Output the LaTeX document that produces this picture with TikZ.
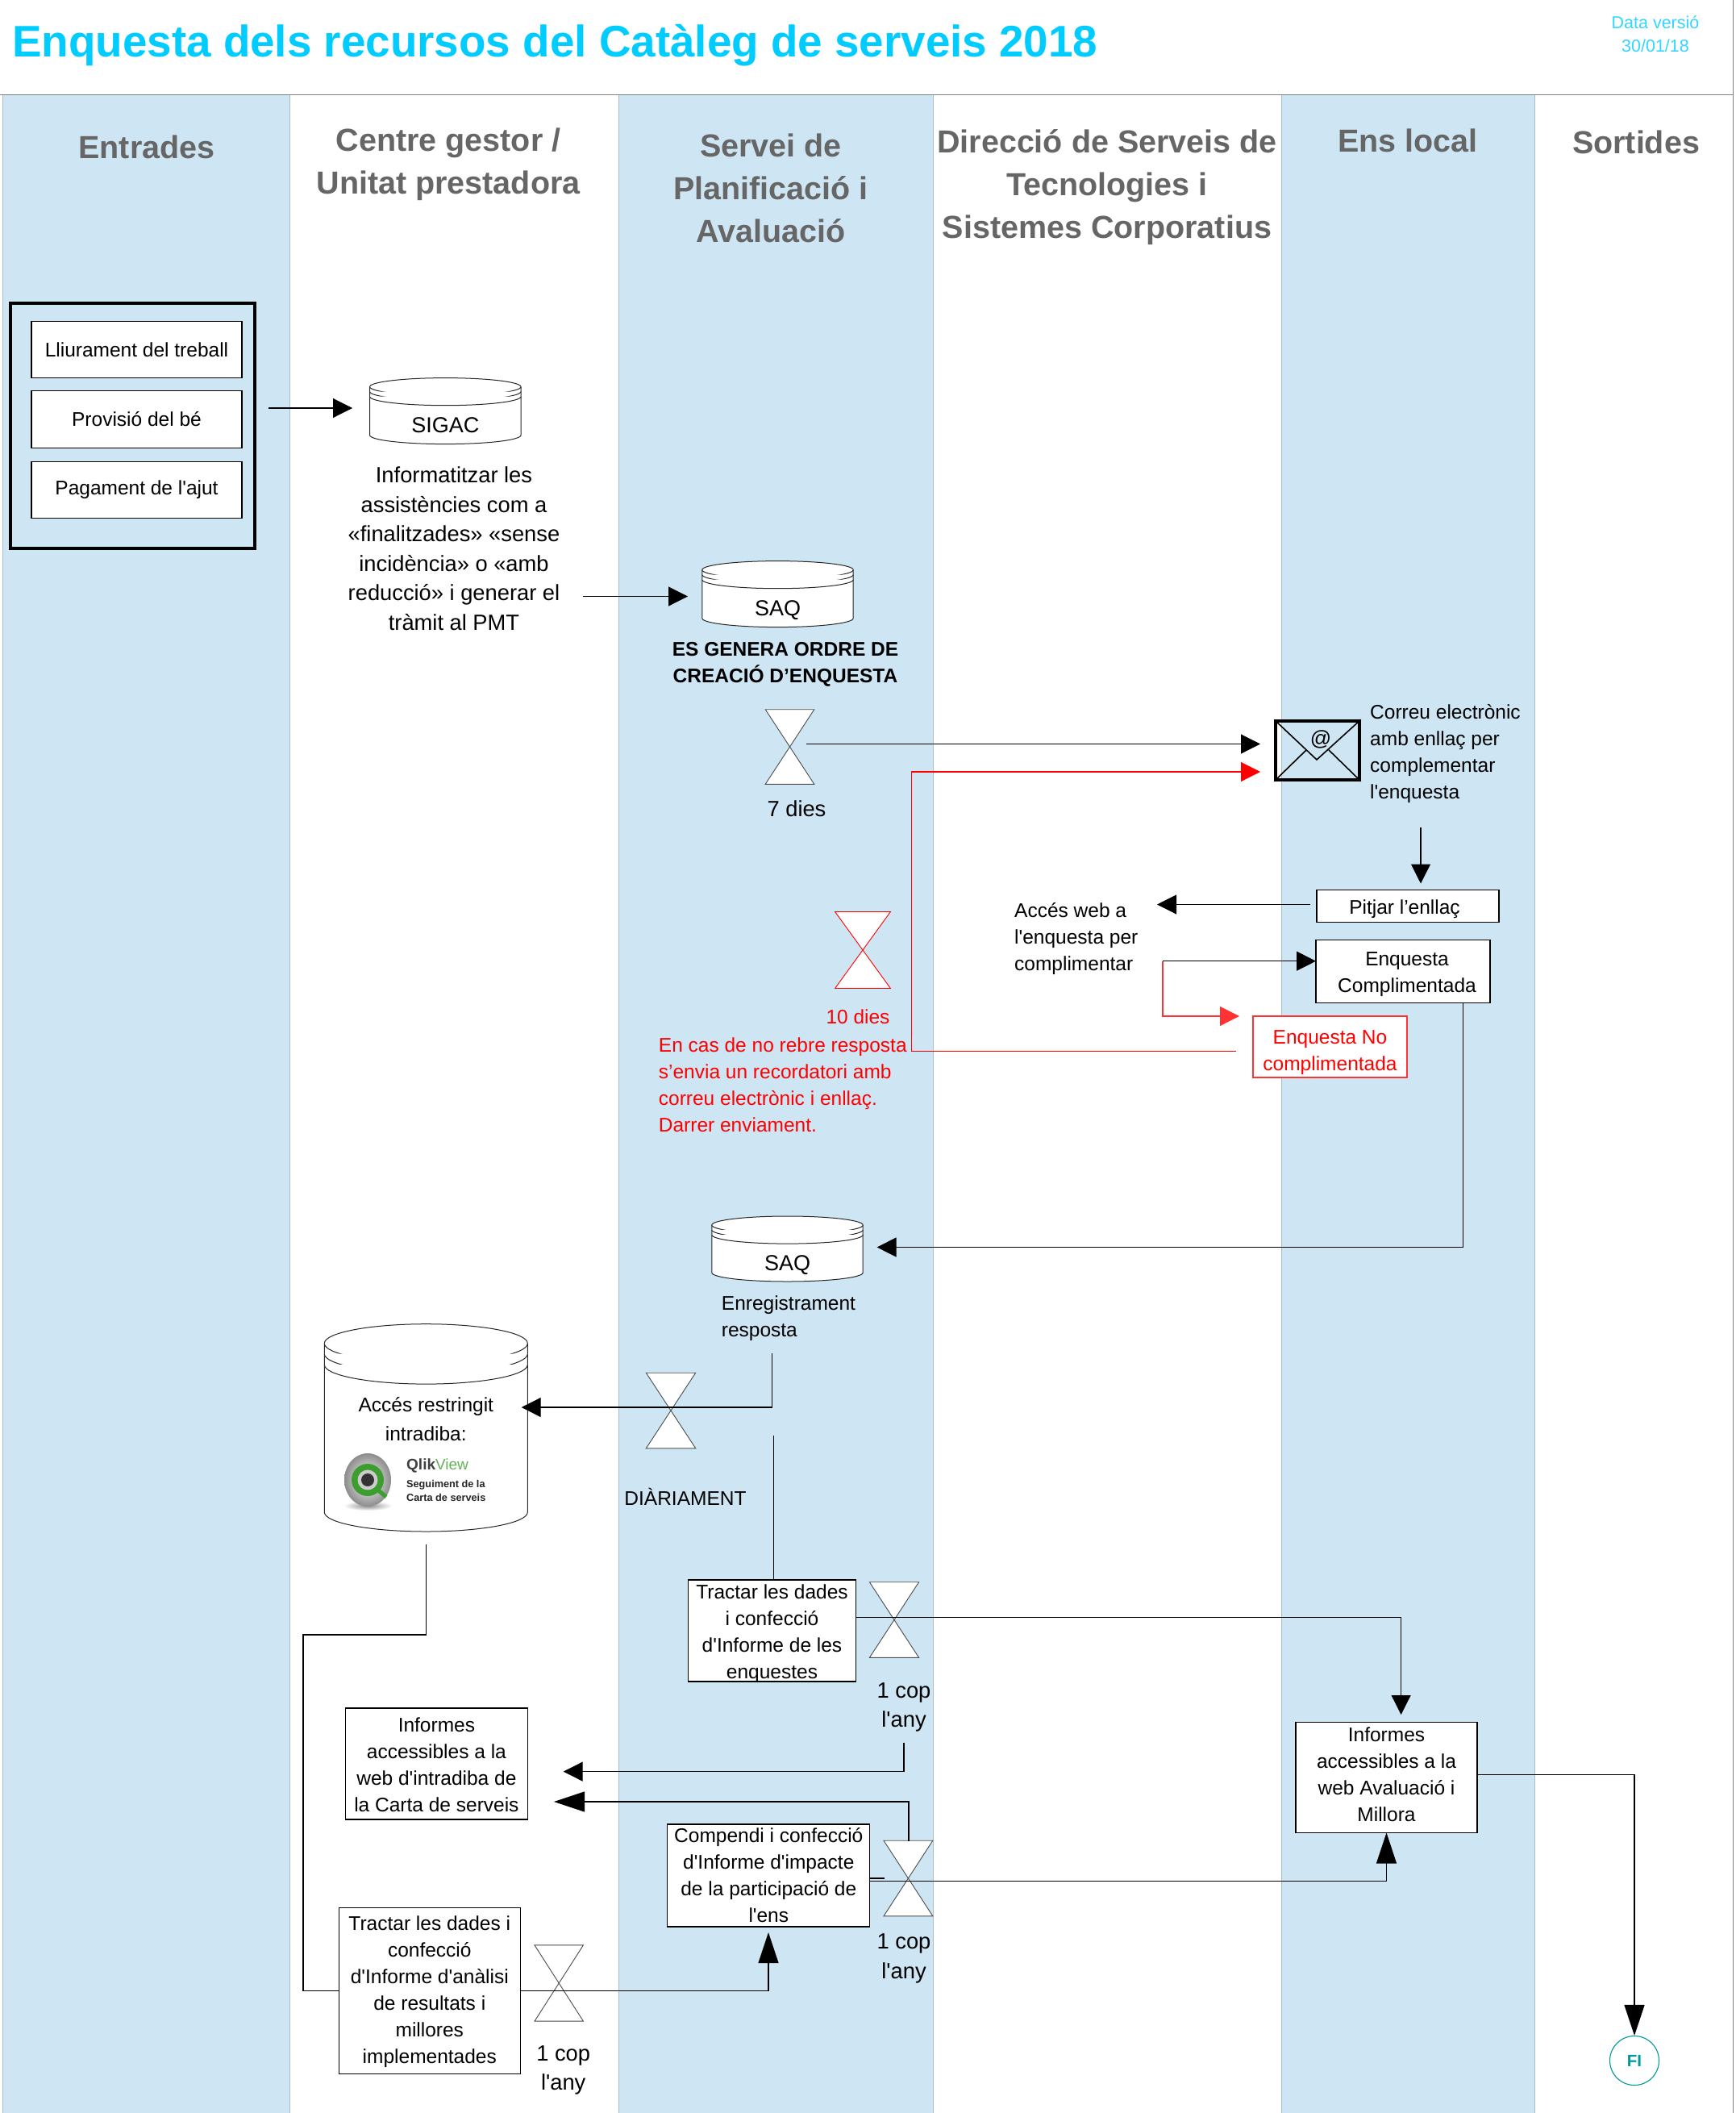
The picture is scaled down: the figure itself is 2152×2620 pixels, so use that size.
\documentclass[tikz,border=0pt]{standalone}
\usepackage{fontspec}
\setmainfont[Ligatures=TeXOff]{Liberation Sans}
\usetikzlibrary{arrows.meta, positioning}

\definecolor{lane}{HTML}{CEE5F3}
\definecolor{laneline}{HTML}{A9BDCB}
\definecolor{titlecyan}{HTML}{00CCFF}
\definecolor{headgray}{HTML}{666666}
\definecolor{softred}{HTML}{FF3333}
\definecolor{teal}{HTML}{009999}
\definecolor{qgreen}{HTML}{3C9E2E}

% drum: name, centre x, top y, x radius, height, y radius, label y, label
\newcommand{\drum}[8]{
  \draw[drum line] (#2-#4,#3+#6) arc[start angle=180,end angle=0,x radius=#4pt,y radius=#6pt]
    -- (#2+#4,#3+#5-#6) arc[start angle=0,end angle=-180,x radius=#4pt,y radius=#6pt] -- cycle;
  \foreach \g in {0,0.27,0.55}
    \draw[drum line] (#2-#4,#3+#6+2*#6*\g) arc[start angle=180,end angle=360,x radius=#4pt,y radius=#6pt];
  \node[inner sep=0,align=center,font=\fontsize{27}{36}\selectfont] (#1) at (#2,#7) {#8};
}
% sandglass: colour, name, centre x, centre y, half width, half height
\newcommand{\glass}[6]{
  \draw[#1,fill=white,line width=0.9pt] (#3-#5,#4-#6) -- (#3+#5,#4-#6) -- (#3-#5,#4+#6) -- (#3+#5,#4+#6) -- cycle;
  \coordinate (#2) at (#3,#4);
}

\begin{document}
\begin{tikzpicture}[x=1pt,y=-1pt,
  drum line/.style={draw=black!85,fill=white,line width=1pt},
  plain box/.style={draw,fill=white,line width=1.1pt,inner sep=0,outer sep=0,align=center,
    font=\fontsize{24.5}{33}\selectfont},
  red box/.style={plain box,draw=softred,text=red},
  note/.style={inner sep=0,align=left,font=\fontsize{24.5}{33}\selectfont},
  box text/.style={note,align=center},
  big note/.style={inner sep=0,align=center,font=\fontsize{27.3}{36.5}\selectfont},
  head/.style={inner sep=0,align=center,text=headgray,font=\fontsize{39.5}{53}\selectfont\bfseries},
  line/.style={draw,line width=1.1pt},
  link/.style={line,-{Triangle[length=24pt,width=24pt]}},
  long link/.style={line,-{Triangle[length=38pt,width=25pt]}}]

  \useasboundingbox (0,0) rectangle (2152,2620);

  \foreach \l/\r in {3/359, 767/1157, 1589/1903}
    \fill[lane] (\l,118) rectangle (\r,2620);
  \foreach \x in {3,359,767,1157,1589,1903}
    \draw[laneline,line width=1pt] (\x,118) -- (\x,2620);
  \draw[black!50,line width=1pt] (0,118) -- (2149,118) (2149,0) -- (2149,2620);

  \node[anchor=base west,inner sep=0,text=titlecyan,font=\fontsize{54.8}{60}\selectfont\bfseries] (title)
    at (15,70.6) {Enquesta dels recursos del Catàleg de serveis 2018};
  \node[inner sep=0,align=center,text=titlecyan!80!white,font=\fontsize{21.5}{28.5}\selectfont] (version)
    at (2053,42) {Data versió\\30/01/18};

  \node[head] (entrades) at (182,182) {Entrades};
  \node[head] (gestor) at (556,203.3) {Centre gestor /\\Unitat prestadora};
  \node[head] (planif) at (956,233) {Servei de\\Planificació i\\Avaluació};
  \node[head] (direccio) at (1373,232.3) {Direcció de Serveis de\\Tecnologies i\\Sistemes Corporatius};
  \node[head] (ens) at (1746,174) {Ens local};
  \node[head] (sortides) at (2029,176) {Sortides};

  \node[draw,line width=3.6pt,inner sep=0,minimum width=303pt,minimum height=304pt] (inputs) at (164.5,528) {};
  \node[plain box,minimum width=261pt,minimum height=70pt] (lliurament) at (169.5,433.5) {Lliurament del treball};
  \node[plain box,minimum width=261pt,minimum height=71pt] (provisio) [below=16pt of lliurament] {Provisió del bé};
  \node[plain box,minimum width=261pt,minimum height=70pt] (pagament) [below=17pt of provisio] {Pagament de l'ajut};

  \drum{sigac}{552.3}{468.6}{93.7}{82}{11}{527}{SIGAC}
  \drum{saqa}{964.5}{695.6}{93.7}{82}{11}{756.3}{SAQ}
  \drum{saqb}{976.5}{1508}{93.7}{81}{11}{1568.3}{SAQ}

  \node[big note] (informatitzar) at (563,680) {Informatitzar les\\assistències com a\\«finalitzades» «sense\\incidència» o «amb\\reducció» i generar el\\tràmit al PMT};
  \node[note,align=center,font=\fontsize{24.5}{33}\selectfont\bfseries] (ordre) at (974,824.3) {ES GENERA ORDRE DE\\CREACIÓ D’ENQUESTA};

  \node[big note] (sevendies) at (988,1003) {7 dies};
  \node[note,anchor=west] (correu) at (1699,934.5) {Correu electrònic\\amb enllaç per\\complementar\\l'enquesta};
  \node[note,anchor=west] (webnote) at (1258,1164) {Accés web a\\l'enquesta per\\complimentar};
  \node[note,text=red] (tendies) at (1064,1261) {10 dies};
  \node[note,anchor=west,text=red] (redtext) at (816.7,1345) {En cas de no rebre resposta\\s’envia un recordatori amb\\correu electrònic i enllaç.\\Darrer enviament.};
  \node[note,anchor=west] (enreg) at (894.7,1634.8) {Enregistrament\\resposta};
  \node[note] (diari) at (850,1855.5) {DIÀRIAMENT};

  \node[plain box,minimum width=226pt,minimum height=40pt] (pitjar) at (1746,1123.6) {};
  \node[box text] (pitjartext) at (1742,1126.8) {Pitjar l’enllaç};
  \node[plain box,minimum width=216pt,minimum height=78pt] (complim) at (1740,1204.5) {};
  \node[box text] (complimtext) at (1745,1207.8) {Enquesta\\Complimentada};
  \node[red box,minimum width=191pt,minimum height=76pt] (nocompl) at (1649.5,1298) {};
  \node[box text,text=red] (nocompltext) at (1649.5,1304.6) {Enquesta No\\complimentada};

  % big store with the report logo
  \drum{intra}{528.3}{1641.7}{126}{257.3}{24}{1760}{\fontsize{24.5}{32.5}\selectfont Accés restringit\\\fontsize{24.5}{32.5}\selectfont intradiba:}
  \shade[inner color=black!45,outer color=white] (456,1867) ellipse [x radius=30pt,y radius=6pt];
  \shade[inner color=white,outer color=black!45] (456,1835) ellipse [x radius=29pt,y radius=33pt];
  \draw[qgreen,line width=5pt] (468,1847) -- (479,1856);
  \fill[qgreen] (456,1835) circle [radius=20pt];
  \fill[black!20] (456,1835) circle [radius=12.5pt];
  \fill[black!80] (456,1835) circle [radius=8pt];
  \node[anchor=west,inner sep=0,font=\fontsize{19}{20}\selectfont] (qlik) at (504,1817) {\textbf{\textcolor{black!75}{Qlik}}\textcolor{qgreen!80!white}{View}};
  \node[anchor=north west,inner sep=0,align=left,font=\fontsize{12.7}{17}\selectfont\bfseries,text=black!85] (qlikcap) at (504,1835) {Seguiment de la\\Carta de serveis};

  \node[plain box,minimum width=208pt,minimum height=126pt] (tractara) at (957.5,2022) {};
  \node[box text] (tractaratext) at (957.5,2025.3) {Tractar les dades\\i confecció\\d'Informe de les\\enquestes};
  \node[plain box,minimum width=226pt,minimum height=138pt] (infoa) at (541.4,2187) {};
  \node[box text] (infoatext) at (541.4,2188.5) {Informes\\accessibles a la\\web d'intradiba de\\la Carta de serveis};
  \node[plain box,minimum width=251pt,minimum height=127pt] (compendi) at (953.3,2325.5) {Compendi i confecció\\d'Informe d'impacte\\de la participació de\\l'ens};
  \node[plain box,minimum width=225pt,minimum height=206pt] (tractarb) at (532.8,2468.4) {};
  \node[box text] (tractarbtext) at (532.8,2469.9) {Tractar les dades i\\confecció\\d'Informe d'anàlisi\\de resultats i\\millores\\implementades};
  \node[plain box,minimum width=225pt,minimum height=137pt] (infob) at (1719.5,2204) {};
  \node[box text] (infobtext) at (1719.5,2200.7) {Informes\\accessibles a la\\web Avaluació i\\Millora};

  \node[big note] (copa) at (1121,2116.8) {1 cop\\l'any};
  \node[big note] (copb) at (1121,2428.3) {1 cop\\l'any};
  \node[big note] (copc) at (698.7,2566.8) {1 cop\\l'any};

  \node[circle,draw=teal,line width=1.1pt,minimum size=61pt,inner sep=0,text=teal,font=\fontsize{20.5}{22}\selectfont\bfseries] (fi) at (2027,2555) {FI};

  \glass{black!70}{weeka}{979.5}{926}{30.3}{46.3}
  \glass{red}{weekb}{1070}{1178}{34.4}{47.5}
  \glass{black!70}{daily}{832}{1749}{30.7}{46.8}
  \glass{black!70}{yeara}{1109}{2008.5}{30.6}{46.8}
  \glass{black!70}{yearb}{1126.4}{2329}{30.4}{46.8}
  \glass{black!70}{yearc}{693.2}{2459}{30.2}{47.1}

  % envelope
  \node[draw,line width=3.4pt,inner sep=0,minimum width=104pt,minimum height=73pt] (mail) at (1634,930.5) {};
  \draw[line width=1.6pt] (mail.north west) -- (1633,942) -- (mail.north east)
    (mail.south west) -- (1620,930) (mail.south east) -- (1648,930);
  \node[inner sep=0,font=\fontsize{26}{28}\selectfont] (mailat) at (1638,917) {@};

  \foreach \n/\x/\y in {inS/333/506, inT/437/506, gencS/723/739.5, gencT/853/739.5,
    sevenS/1000/922.5, sevenT/1563/922.5, remS/1533/1303.3, remV/1130.4/957, remT/1563/957,
    mailS/1762/1025.6, mailT/1762/1095.5, pitS/1625/1121.5, pitT/1435/1121.5,
    webS/1442/1191.7, webT/1632/1191.7, noT/1537/1260,
    saqT/1087.6/1546.5, enrS/957.5/1678, intT/646.7/1745, trkS/959.5/1780, trkT/959.5/1959,
    intS/528.4/1915, intV/376/2027, trbIn/420.3/2468.4,
    traOut/1061.5/2005.3, repT/1737.6/2126, copS/1121/2160.8, infT/698.7/2196.6,
    impS/1127/2282.5, impT/687/2234, stubS/1078.7/2329, stubT/1097/2329,
    comOut/1078.7/2332.4, trbOut/645.3/2468.4, comT/953/2396, repOut/1832/2200.3,
    comS/1814.4/1243.5}
    \coordinate (\n) at (\x,\y);

  \foreach \s/\t in {inS/inT, gencS/gencT, sevenS/sevenT, mailS/mailT, pitS/pitT, webS/webT} {
    \path[link] (\s) -- (\t);}
  \foreach \s/\t in {trkS/trkT, stubS/stubT} {
    \path[line] (\s) -- (\t);}

  \path[link,draw=softred,-{Triangle[length=24pt,width=24pt,fill=softred]}] (webS) |- (noT);
  \path[link,draw=red,-{Triangle[length=24pt,width=24pt,fill=red]}] (remS) -| (remV) -- (remT);
  \path[link] (comS) |- (saqT);
  \path[link] (enrS) |- (intT);
  \path[line] (intS) |- (intV) |- (trbIn);
  \path[link] (traOut) -| (repT);
  \path[link] (copS) |- (infT);
  \path[long link] (impS) |- (impT);
  \path[long link] (comOut) -| (infob.south);
  \path[long link] (trbOut) -| (comT);
  \path[long link] (repOut) -| (fi.north);

\end{tikzpicture}
\end{document}
